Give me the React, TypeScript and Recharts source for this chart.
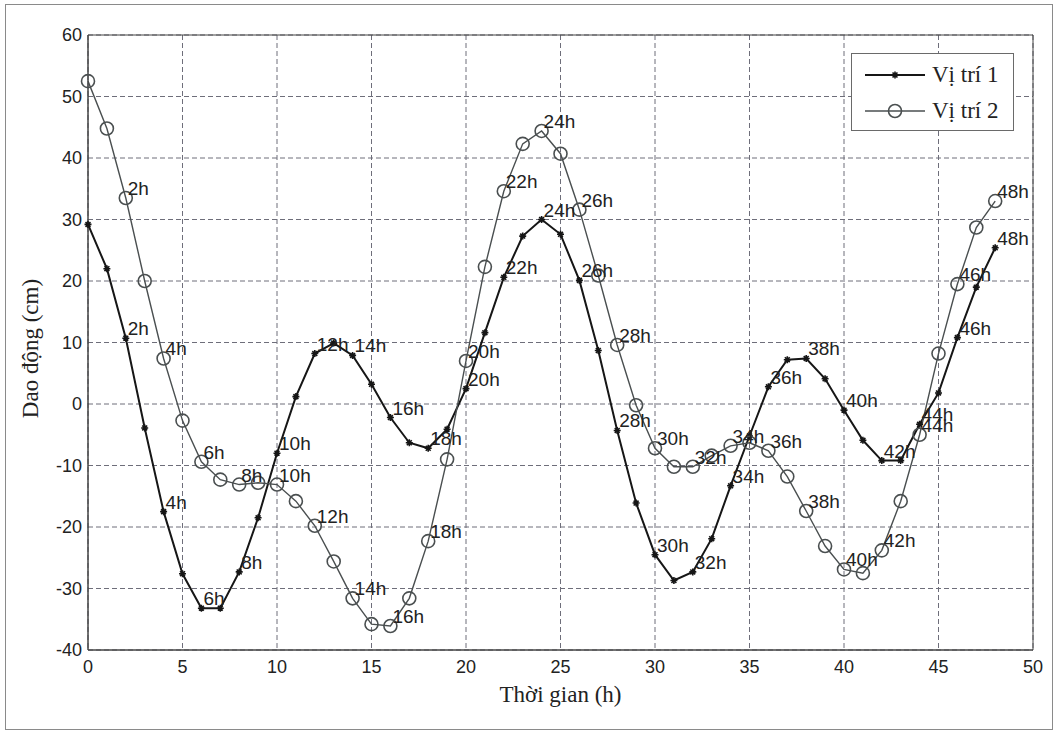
import React from 'react';
import {
  CartesianGrid,
  LabelList,
  Legend,
  Line,
  LineChart,
  ReferenceArea,
  XAxis,
  YAxis,
} from 'recharts';

const HOURS = [
  0, 1, 2, 3, 4, 5, 6, 7, 8, 9, 10, 11, 12, 13, 14, 15, 16, 17, 18, 19, 20, 21, 22, 23, 24,
  25, 26, 27, 28, 29, 30, 31, 32, 33, 34, 35, 36, 37, 38, 39, 40, 41, 42, 43, 44, 45, 46, 47, 48,
];

const VI_TRI_1 = [
  29.2, 22.0, 10.7, -3.9, -17.5, -27.6, -33.2, -33.2, -27.3, -18.5, -8.0, 1.2, 8.2, 9.9, 7.9, 3.2,
  -2.2, -6.3, -7.2, -4.1, 2.5, 11.6, 20.6, 27.3, 30.0, 27.6, 20.1, 8.7, -4.3, -16.1, -24.5, -28.7,
  -27.3, -21.9, -13.3, -5.2, 2.8, 7.2, 7.4, 4.1, -1.0, -5.9, -9.2, -9.2, -3.3, 1.8, 10.8, 19.0, 25.4,
];

const VI_TRI_2 = [
  52.5, 44.8, 33.5, 20.0, 7.4, -2.7, -9.4, -12.3, -13.1, -12.8, -13.1, -15.8, -19.8, -25.6, -31.6,
  -35.8, -36.1, -31.6, -22.3, -9.0, 7.0, 22.3, 34.6, 42.3, 44.4, 40.7, 31.6, 20.9, 9.6, -0.2, -7.2,
  -10.2, -10.2, -8.4, -6.8, -6.3, -7.6, -11.8, -17.4, -23.1, -26.9, -27.5, -23.8, -15.8, -5.0, 8.2,
  19.5, 28.7, 33.0,
];

// hours that get a text tag next to the point
const LABELLED_HOURS = [2, 4, 6, 8, 10, 12, 14, 16, 18, 20, 22, 24, 26, 28, 30, 32, 34, 36, 38, 40, 42, 44, 46, 48];

const X_TICKS = [0, 5, 10, 15, 20, 25, 30, 35, 40, 45, 50];
const Y_TICKS = [-40, -30, -20, -10, 0, 10, 20, 30, 40, 50, 60];

const data = HOURS.map((t, i) => ({
  t,
  v1: VI_TRI_1[i],
  v2: VI_TRI_2[i],
  tag: LABELLED_HOURS.includes(t) ? `${t}h` : null,
}));

const SANS = '"Liberation Sans", Arial, sans-serif';
const SERIF = '"Liberation Serif", "Times New Roman", serif';
const C1 = '#161616';
const C2 = '#4a4f50';

const StarDot = (props: any) => {
  const {cx, cy, index} = props;
  if (cx == null || cy == null) return <g key={`s-${index}`} />;
  const r = 3.5;
  const d = `M${cx - r},${cy}L${cx + r},${cy}M${cx},${cy - r}L${cx},${cy + r}M${cx - r * 0.7},${cy - r * 0.7}L${cx + r * 0.7},${cy + r * 0.7}M${cx - r * 0.7},${cy + r * 0.7}L${cx + r * 0.7},${cy - r * 0.7}`;
  return <path key={`s-${index}`} d={d} stroke={C1} strokeWidth={1.6} fill="none" />;
};

const CircleDot = (props: any) => {
  const {cx, cy, index} = props;
  if (cx == null || cy == null) return <g key={`c-${index}`} />;
  return <circle key={`c-${index}`} cx={cx} cy={cy} r={6.5} stroke={C2} strokeWidth={1.6} fill="none" />;
};

const HourTag = (props: any) => {
  const {x, y, value} = props;
  if (value == null || x == null || y == null) return null;
  return (
    <text x={x + 2} y={y - 3} fontFamily={SANS} fontSize={19} fill="#222">
      {value}
    </text>
  );
};

const YTitle = (props: any) => {
  const vb = props.viewBox || {x: 88, y: 35, height: 617};
  const cx = 30;
  const cy = vb.y + vb.height / 2 + 6;
  return (
    <text
      x={cx}
      y={cy}
      transform={`rotate(-90, ${cx}, ${cy})`}
      textAnchor="middle"
      dominantBaseline="central"
      fontFamily={SERIF}
      fontSize={23}
      fill="#222"
    >
      Dao động (cm)
    </text>
  );
};

const LegendBox = () => (
  <div
    style={{
      width: 163,
      height: 78,
      border: '1px solid #6a6a6a',
      background: '#fff',
      fontFamily: SERIF,
      fontSize: 23,
      color: '#222',
      boxSizing: 'border-box',
    }}
  >
    <div style={{display: 'flex', alignItems: 'center', height: 38, paddingTop: 2}}>
      <svg width={80} height={20}>
        <line x1={13} y1={10} x2={73} y2={10} stroke={C1} strokeWidth={2} />
        <StarDot cx={43} cy={10} index={0} />
      </svg>
      <span>Vị trí 1</span>
    </div>
    <div style={{display: 'flex', alignItems: 'center', height: 34}}>
      <svg width={80} height={20}>
        <line x1={13} y1={10} x2={73} y2={10} stroke={C2} strokeWidth={1.4} />
        <CircleDot cx={43} cy={10} index={1} />
      </svg>
      <span>Vị trí 2</span>
    </div>
  </div>
);

export default function App() {
  return (
    <div style={{position: 'absolute', left: 0, top: 0, width: 1058, height: 735, background: '#fff'}}>
      <div
        style={{
          position: 'absolute',
          left: 5,
          top: 4,
          width: 1048,
          height: 726,
          border: '1px solid #8a8a8a',
          boxSizing: 'border-box',
        }}
      />
      <div style={{position: 'absolute', left: 0, top: 0}}>
        <LineChart width={1058} height={735} data={data} margin={{top: 35, right: 25, left: 28, bottom: 55}}>
          <CartesianGrid stroke="#6e6e7a" strokeDasharray="5 3" strokeWidth={1} />
          <XAxis
            dataKey="t"
            type="number"
            domain={[0, 50]}
            ticks={X_TICKS}
            interval={0}
            height={30}
            tickSize={0}
            tickMargin={10}
            tick={{fill: '#222', fontSize: 18, fontFamily: SANS}}
            axisLine={{stroke: '#444'}}
            label={{
              value: 'Thời gian (h)',
              position: 'bottom',
              offset: 6,
              fill: '#222',
              fontSize: 23,
              fontFamily: SERIF,
            }}
          />
          <YAxis
            type="number"
            domain={[-40, 60]}
            ticks={Y_TICKS}
            interval={0}
            width={60}
            tickSize={0}
            tickMargin={6}
            tick={{fill: '#222', fontSize: 18, fontFamily: SANS}}
            axisLine={{stroke: '#444'}}
            label={YTitle}
          />
          <ReferenceArea x1={0} x2={50} y1={-40} y2={60} fill="none" stroke="#444" strokeWidth={1} />
          <Legend
            layout="horizontal"
            verticalAlign="middle"
            align="center"
            wrapperStyle={{left: 851, top: 53, width: 163}}
            content={() => <LegendBox />}
          />
          <Line
            dataKey="v1"
            type="linear"
            stroke={C1}
            strokeWidth={2}
            dot={StarDot}
            activeDot={false}
            isAnimationActive={false}
          >
            <LabelList dataKey="tag" content={HourTag} />
          </Line>
          <Line
            dataKey="v2"
            type="linear"
            stroke={C2}
            strokeWidth={1.4}
            dot={CircleDot}
            activeDot={false}
            isAnimationActive={false}
          >
            <LabelList dataKey="tag" content={HourTag} />
          </Line>
        </LineChart>
      </div>
    </div>
  );
}
